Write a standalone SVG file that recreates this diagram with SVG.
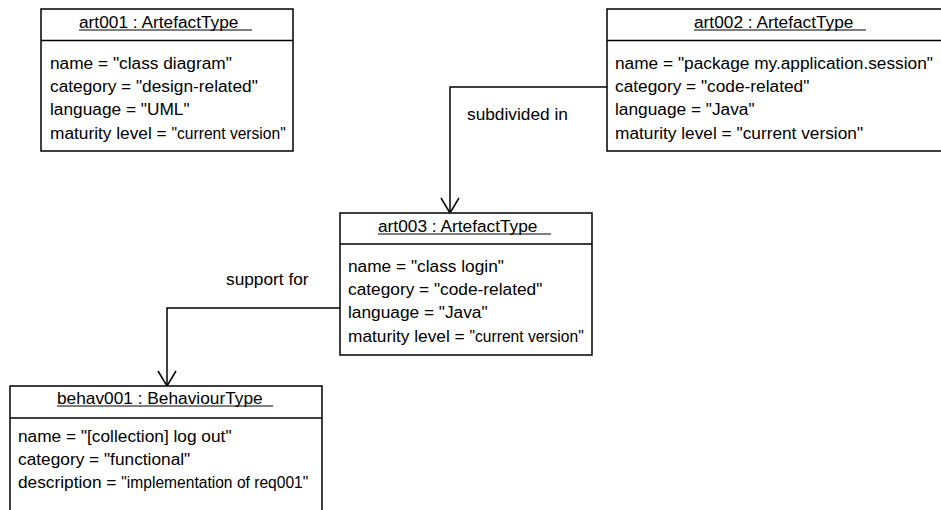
<svg xmlns="http://www.w3.org/2000/svg" width="941" height="510" viewBox="0 0 941 510">
<style>
.box{fill:#fff;stroke:#000;stroke-width:1.5}
.div{stroke:#000;stroke-width:1.5}
.ul{stroke:#000;stroke-width:1}
text{font-family:"Liberation Sans",Arial,sans-serif;font-size:17.3px;fill:#000}
.sm{font-size:15.6px}
.conn{fill:none;stroke:#000;stroke-width:1.5}
</style>
<defs>
<marker id="open" viewBox="-17 -11 19 22" refX="0" refY="0" markerWidth="19" markerHeight="22" markerUnits="userSpaceOnUse" orient="auto" overflow="visible">
<path d="M-15,-9 L0,0 L-15,9" fill="none" stroke="#000" stroke-width="1.5"/>
</marker>
</defs>
<rect width="941" height="510" fill="#fff"/>
<g id="connectors">
<path class="conn" d="M607,87 H450 V213" marker-end="url(#open)"/>
<path class="conn" d="M340,308 H167 V386" marker-end="url(#open)"/>
<text x="467" y="120">subdivided in</text>
<text x="226" y="285">support for</text>
</g>
<g id="art001">
<rect class="box" x="41" y="9" width="252" height="142"/>
<line class="div" x1="41" y1="40.5" x2="293" y2="40.5"/>
<text x="79" y="28">art001 : ArtefactType</text>
<line class="ul" x1="79" y1="30" x2="252" y2="30"/>
<text x="50" y="69">name = "class diagram"</text>
<text x="50" y="92">category = "design-related"</text>
<text x="50" y="115">language = "UML"</text>
<text x="50" y="139">maturity level = <tspan class="sm">"current version"</tspan></text>
</g>
<g id="art002">
<rect class="box" x="607" y="9" width="345" height="142"/>
<line class="div" x1="607" y1="40.5" x2="941" y2="40.5"/>
<text x="694" y="28">art002 : ArtefactType</text>
<line class="ul" x1="694" y1="30" x2="866" y2="30"/>
<text x="615" y="69">name = "package my.application.session"</text>
<text x="615" y="92">category = "code-related"</text>
<text x="615" y="115">language = "Java"</text>
<text x="615" y="139">maturity level = "current version"</text>
</g>
<g id="art003">
<rect class="box" x="340" y="213" width="252" height="142"/>
<line class="div" x1="340" y1="244" x2="592" y2="244"/>
<text x="378" y="232">art003 : ArtefactType</text>
<line class="ul" x1="378" y1="234" x2="551" y2="234"/>
<text x="348" y="272">name = "class login"</text>
<text x="348" y="295">category = "code-related"</text>
<text x="348" y="318">language = "Java"</text>
<text x="348" y="342">maturity level = <tspan class="sm">"current version"</tspan></text>
</g>
<g id="behav001">
<rect class="box" x="10" y="386" width="312" height="160"/>
<line class="div" x1="10" y1="418" x2="322" y2="418"/>
<text x="57" y="404">behav001 : BehaviourType</text>
<line class="ul" x1="57" y1="406" x2="273" y2="406"/>
<text x="18" y="442">name = "[collection] log out"</text>
<text x="18" y="465">category = "functional"</text>
<text x="18" y="488">description = <tspan class="sm">"implementation of req001"</tspan></text>
</g>
</svg>
